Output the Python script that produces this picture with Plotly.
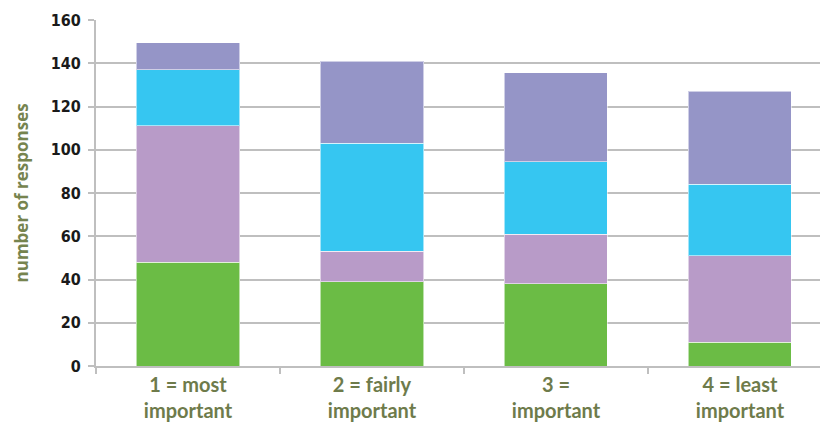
import plotly.graph_objects as go

categories = ["1 = most<br>important", "2 = fairly<br>important", "3 =<br>important", "4 = least<br>important"]
series_names = ["Series 1", "Series 2", "Series 3", "Series 4"]
s1 = [48, 39, 38, 11]
s2 = [63, 14, 23, 40]
s3 = [26, 50, 33.5, 33]
s4 = [12.5, 38, 41, 43]
colors = ["#6BBC45", "#B89BC8", "#36C6F1", "#9595C7"]
y_ticks = [0, 20, 40, 60, 80, 100, 120, 140, 160]

fig = go.Figure()
for name, vals, col in zip(series_names, [s1, s2, s3, s4], colors):
    fig.add_trace(go.Bar(
        x=categories, y=vals, name=name,
        marker=dict(color=col, line=dict(color="rgba(255,255,255,0.55)", width=1)),
        width=0.56,
    ))

fig.update_layout(
    barmode="stack",
    width=820, height=427,
    margin=dict(l=96, r=0, t=20, b=61),
    paper_bgcolor="white", plot_bgcolor="white",
    showlegend=False,
    xaxis=dict(
        range=[-0.5, 3.435],
        showline=True, linecolor="#BFBFBF", linewidth=2,
        ticks="outside", tickson="boundaries", ticklen=6, tickcolor="#BFBFBF", tickwidth=2,
        tickfont=dict(family="Lato, Open Sans, sans-serif", size=20, color="#6E7B4B", weight="bold"),
        showgrid=False,
    ),
    yaxis=dict(
        range=[0, 160], tickvals=y_ticks,
        showline=True, linecolor="#BFBFBF", linewidth=2,
        ticks="outside", ticklen=6, tickcolor="#BFBFBF", tickwidth=2,
        showgrid=True, gridcolor="#BFBFBF", gridwidth=2,
        zeroline=False,
        ticklabelstandoff=4,
        tickfont=dict(family="Liberation Sans Narrow, DejaVu Sans Condensed, Arial, sans-serif", size=16, color="#1a1a1a", weight="bold"),
    ),
    annotations=[dict(
        text="number of responses", textangle=-90,
        xref="paper", yref="paper", x=-0.103, y=0.5,
        xanchor="center", yanchor="middle", showarrow=False,
        font=dict(family="Open Sans, sans-serif", size=17, color="#76844F", weight="bold"),
    )],
)

fig.write_html("out.html")
